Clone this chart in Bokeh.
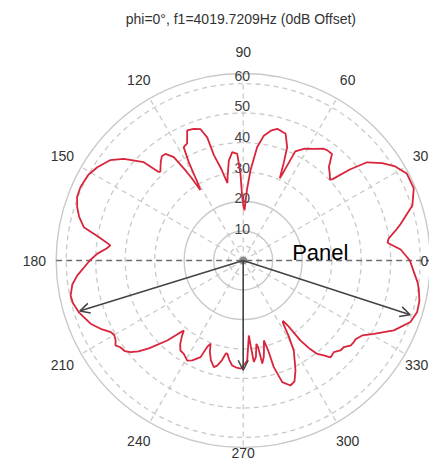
import numpy as np
from bokeh.plotting import figure
from bokeh.models import Arrow, OpenHead
from bokeh.core.properties import value
from bokeh.embed import file_html
from bokeh.resources import INLINE

# ---------------- data ----------------
title_text = "phi=0°, f1=4019.7209Hz (0dB Offset)"

angle_deg = [0, 4, 7, 8.5, 11, 13, 18, 23, 28, 32, 35, 38.4, 40.5, 42.3, 43, 45, 47.5,
             50.2, 52.6, 54.2, 57.7, 61.5, 64.5, 65.5, 66, 67.5, 68.8, 71.5, 75.5, 78,
             80.6, 83, 85.4, 87, 88.5, 89.5, 91, 91.8, 93.2, 95.8, 98.2, 100.5, 101.5,
             102.5, 103.5, 105.5, 106.3, 108, 110.6, 113.3, 115.6, 117.7, 119, 120.5,
             121.3, 122, 122.7, 123.9, 126.1, 128, 130, 133, 133.7, 135.3, 139.6, 143,
             147.4, 151, 155.7, 159, 162.2, 165, 168.2, 170.8, 173.5, 175, 177.4, 180,
             185.2, 188, 191.5, 194, 197.5, 202.5, 205.6, 208.4, 210, 212, 213.6, 215.2,
             217.5, 219.1, 221, 223.1, 226.5, 228.5, 229.7, 231, 233, 235.1, 237.5,
             240.8, 243, 246.2, 247.5, 248.6, 250, 252, 254.6, 256.1, 258, 259.5, 260.3,
             262, 264, 266, 268.6, 271, 272.3, 274.3, 275, 276, 277.5, 279, 279.8, 280.5,
             282, 283, 284.5, 285.5, 286, 287.8, 290.7, 293, 295.4, 297, 299.3, 301,
             302.5, 303.5, 304.5, 305.6, 307, 308.4, 310.3, 312, 314.7, 317.2, 319.2,
             321.6, 323.6, 325, 327.8, 330.7, 333, 335.1, 339.8, 343.5, 347, 350.8, 353,
             356.1, 360]
gain_db = [56.5, 53.5, 49.3, 49.8, 52.5, 54.7, 60.3, 62.8, 62.8, 60.4, 57.5, 53.6, 47.5,
           41, 40.2, 41.5, 43, 47, 47, 46.7, 44.8, 43.1, 41, 33, 30.5, 36, 41.2, 45.3,
           46.1, 45, 42.9, 38.7, 30.6, 24, 17, 18, 22, 29.4, 36.2, 36.9, 34.2, 29, 26.8,
           29, 32, 37, 43.5, 46.8, 47.7, 48, 44, 43.4, 38, 30, 28, 33, 36.5, 42.2, 44.7,
           44.8, 43.5, 41.2, 41.5, 47.4, 53.2, 56.5, 58.7, 60, 60.5, 60.3, 59.1, 57.6,
           55.2, 49.6, 45.3, 46.5, 49.6, 52, 56.5, 58.5, 59.7, 59.5, 58.4, 56, 53.6, 51,
           50.5, 51, 52, 51, 50.5, 49.3, 47, 43.5, 37.4, 33, 31.1, 33, 35.5, 37.2, 37.5,
           38.9, 38, 35.8, 31.5, 30.3, 33, 35.5, 37.5, 36.7, 34.5, 32, 32, 34, 35.8,
           36.3, 36.7, 35, 33.9, 25.5, 29, 34.6, 33, 28.6, 30, 35.5, 33.5, 31.3, 28,
           31.6, 37.6, 43.3, 45.3, 44.5, 41.3, 38.5, 35, 30, 25, 24.5, 27, 33.4, 37.5,
           40.4, 42.2, 44.2, 43.7, 44.9, 45, 46.4, 46.6, 46.5, 47.7, 50.8, 53.5, 56.3,
           60.4, 61.5, 61.3, 60.3, 59.5, 58, 56.5]

ring_values = [10, 20, 30, 40, 50, 60]
ring_labels = ["10", "20", "30", "40", "50", "60"]
angle_ticks = [0, 30, 60, 90, 120, 150, 180, 210, 240, 270, 300, 330]
angle_tick_labels = [str(a) for a in angle_ticks]

arrow_angles = [197.2, 342.0, 270.0]
arrow_lengths = [58.0, 59.5, 37.2]
panel_label = "Panel"

# ---------------- styling ----------------
R_OUT = 63.4
LABEL_R = 70.8
GRID = "#c9c9c9"
FONT = value("Liberation Sans")
XR = (-82.27, 63.15)
YR = (-67.8, 88.14)

p = figure(width=429, height=460, x_range=XR, y_range=YR,
           output_backend="svg", toolbar_location=None, min_border=0)
p.axis.visible = False
p.grid.visible = False
p.outline_line_color = None
p.background_fill_color = "white"

# grid circles
dashed_rings = [5] + [v for v in ring_values if v >= 30]
solid_rings = [v for v in ring_values if v < 30] + [R_OUT]
p.circle(x=[0] * len(dashed_rings), y=[0] * len(dashed_rings), radius=dashed_rings,
         fill_color=None, line_color=GRID, line_width=1.3, line_dash="5 4")
p.circle(x=[0] * len(solid_rings), y=[0] * len(solid_rings), radius=solid_rings,
         fill_color=None, line_color=GRID, line_width=1.4)

# spokes
spk = np.deg2rad([a for a in angle_ticks if a not in (0, 180)])
p.segment(x0=0, y0=0, x1=R_OUT * np.cos(spk), y1=R_OUT * np.sin(spk),
          line_color=GRID, line_width=1.3, line_dash="5 4")
p.segment(x0=[-R_OUT], y0=[0], x1=[R_OUT], y1=[0],
          line_color="#6e6e6e", line_width=1.5, line_dash="6 4")

# ring labels along 90 deg
rv = np.array(ring_values, dtype=float)
p.text(x=[-0.3] * len(rv), y=rv * 1.04 + 0.3, text=ring_labels, text_font=FONT,
       text_font_size="14px", text_color="#444444", text_align="center",
       text_baseline="middle")

# angle labels (kept inside the canvas at the right and bottom edges)
lx, ly, la = [], [], []
for a, s in zip(angle_ticks, angle_tick_labels):
    t = np.deg2rad(a)
    x, y = LABEL_R * np.cos(t), LABEL_R * np.sin(t)
    align = "center"
    half_w = 1.45 * len(s)
    if x + half_w > XR[1] - 0.3:
        x, align = XR[1] - 0.4, "right"
    y = max(y, YR[0] + 2.6)
    lx.append(x); ly.append(y); la.append(align)
p.text(x=lx, y=ly, text=angle_tick_labels, text_align=la,
       text_font=FONT, text_font_size="14px", text_color="#333333",
       text_baseline="middle")

# pattern curve
th = np.deg2rad(angle_deg)
g = np.array(gain_db)
p.line(g * np.cos(th), g * np.sin(th), line_color="#d8253c", line_width=1.8)

# arrows
for a, L in zip(arrow_angles, arrow_lengths):
    t = np.deg2rad(a)
    p.add_layout(Arrow(end=OpenHead(size=10, line_color="#444444", line_width=1.5),
                       x_start=0, y_start=0, x_end=float(L * np.cos(t)),
                       y_end=float(L * np.sin(t)), line_color="#444444", line_width=1.6))

p.scatter(x=[0], y=[0], size=7, color="#8a8a8a")

# Panel label and title
p.text(x=[16.6], y=[2.8], text=[panel_label], text_font=FONT, text_font_size="22px",
       text_color="black", text_align="left", text_baseline="alphabetic")
p.text(x=[-0.8], y=[82.0], text=[title_text], text_font=FONT, text_font_size="14px",
       text_color="#333333", text_align="center", text_baseline="middle")

open("out.html", "w").write(file_html(p, INLINE))
